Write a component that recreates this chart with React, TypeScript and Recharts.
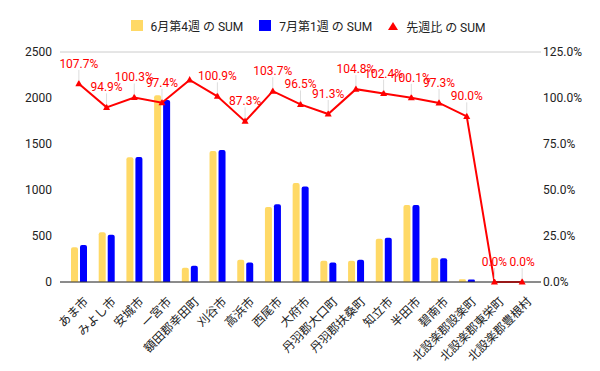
import {
  Bar,
  CartesianGrid,
  ComposedChart,
  LabelList,
  Legend,
  Line,
  XAxis,
  YAxis,
} from 'recharts'

const CITIES = [
  'あま市',
  'みよし市',
  '安城市',
  '一宮市',
  '額田郡幸田町',
  '刈谷市',
  '高浜市',
  '西尾市',
  '大府市',
  '丹羽郡大口町',
  '丹羽郡扶桑町',
  '知立市',
  '半田市',
  '碧南市',
  '北設楽郡設楽町',
  '北設楽郡東栄町',
  '北設楽郡豊根村',
]
const JUNE_W4 = [379, 542, 1355, 2030, 155, 1423, 242, 816, 1077, 231, 231, 470, 838, 264, 29, 0, 0]
const JULY_W1 = [401, 514, 1359, 1977, 177, 1434, 211, 846, 1039, 211, 242, 481, 838, 257, 26, 0, 0]
const WOW_PCT = [107.7, 94.9, 100.3, 97.4, 109.8, 100.9, 87.3, 103.7, 96.5, 91.3, 104.8, 102.4, 100.1, 97.3, 90.0, 0.0, 0.0]
// Google hid this one because it collided with its neighbours
const HIDDEN_LABELS = ['額田郡幸田町']

const LEFT_TICKS = [0, 500, 1000, 1500, 2000, 2500]
const RIGHT_TICKS = [0, 25, 50, 75, 100, 125]

const COLOR_JUNE = '#ffd966'
const COLOR_JULY = '#0000ff'
const COLOR_WOW = '#ff0000'
const TEXT = '#222222'
const FONT = "Roboto, 'Noto Sans CJK JP', sans-serif"

const data = CITIES.map((city, i) => ({
  city,
  june: JUNE_W4[i],
  july: JULY_W1[i],
  wow: WOW_PCT[i],
}))

function CityTick({ x, y, payload }: any) {
  return (
    <text
      x={x + 4}
      y={y + 6}
      transform={`rotate(-45, ${x + 4}, ${y + 6})`}
      textAnchor="end"
      dominantBaseline="hanging"
      fill={TEXT}
      fontSize={12}
      fontFamily={FONT}
    >
      {payload.value}
    </text>
  )
}

function Triangle({ cx, cy }: any) {
  if (cx == null || cy == null) return null
  return <path d={`M${cx},${cy - 4}L${cx + 3.5},${cy + 2.5}L${cx - 3.5},${cy + 2.5}Z`} fill={COLOR_WOW} />
}

function PctLabel({ x, y, value, index }: any) {
  if (HIDDEN_LABELS.includes(CITIES[index])) return null
  return (
    <g>
      <line x1={x} x2={x} y1={y - 3} y2={y - 14} stroke="#dddddd" strokeWidth={1} />
      <text x={x} y={y - 16} textAnchor="middle" fill={COLOR_WOW} fontSize={12} fontFamily={FONT}>
        {`${Number(value).toFixed(1)}%`}
      </text>
    </g>
  )
}

function LegendBox() {
  const item = (icon: any, label: string) => (
    <span style={{ display: 'inline-flex', alignItems: 'center', margin: '0 8px' }}>
      {icon}
      <span style={{ marginLeft: 8 }}>{label}</span>
    </span>
  )
  const square = (color: string) => (
    <span style={{ display: 'inline-block', width: 12, height: 11, background: color }} />
  )
  return (
    <div style={{ textAlign: 'center', fontSize: 12, color: TEXT, fontFamily: FONT, height: 20 }}>
      {item(square(COLOR_JUNE), '6月第4週 の SUM')}
      {item(square(COLOR_JULY), '7月第1週 の SUM')}
      {item(
        <svg width={10} height={9}>
          <path d="M5,0L10,8L0,8Z" fill={COLOR_WOW} />
        </svg>,
        '先週比 の SUM'
      )}
    </div>
  )
}

export default function App() {
  return (
    <div style={{ width: 600, height: 371, background: '#fff' }}>
      <ComposedChart
        width={600}
        height={371}
        data={data}
        margin={{ top: 6, right: 0, bottom: 0, left: 0 }}
        barGap={2}
      >
        <Legend
          verticalAlign="top"
          align="center"
          height={38}
          content={() => <LegendBox />}
          wrapperStyle={{ top: 9 }}
        />
        <CartesianGrid stroke="#cccccc" vertical={false} />
        <XAxis
          dataKey="city"
          interval={0}
          height={97}
          padding={{ left: 5, right: 5 }}
          axisLine={{ stroke: '#333333' }}
          tickLine={false}
          tick={<CityTick />}
        />
        <YAxis
          yAxisId="left"
          domain={[0, 2500]}
          ticks={LEFT_TICKS}
          width={52}
          axisLine={false}
          tickLine={false}
          tick={{ fill: TEXT, fontSize: 12, fontFamily: FONT }}
        />
        <YAxis
          yAxisId="right"
          orientation="right"
          domain={[0, 125]}
          ticks={RIGHT_TICKS}
          width={67}
          axisLine={false}
          tickLine={false}
          tickFormatter={(v: number) => `${v.toFixed(1)}%`}
          tick={{ fill: TEXT, fontSize: 12, fontFamily: FONT, textAnchor: 'start', dx: -6 }}
        />
        <Bar yAxisId="left" dataKey="june" fill={COLOR_JUNE} barSize={7} radius={[2, 2, 0, 0]} isAnimationActive={false} />
        <Bar yAxisId="left" dataKey="july" fill={COLOR_JULY} barSize={7} radius={[2, 2, 0, 0]} isAnimationActive={false} />
        <Line
          yAxisId="right"
          type="linear"
          dataKey="wow"
          stroke={COLOR_WOW}
          strokeWidth={2}
          dot={<Triangle />}
          activeDot={false}
          isAnimationActive={false}
        >
          <LabelList dataKey="wow" content={<PctLabel />} />
        </Line>
      </ComposedChart>
    </div>
  )
}
